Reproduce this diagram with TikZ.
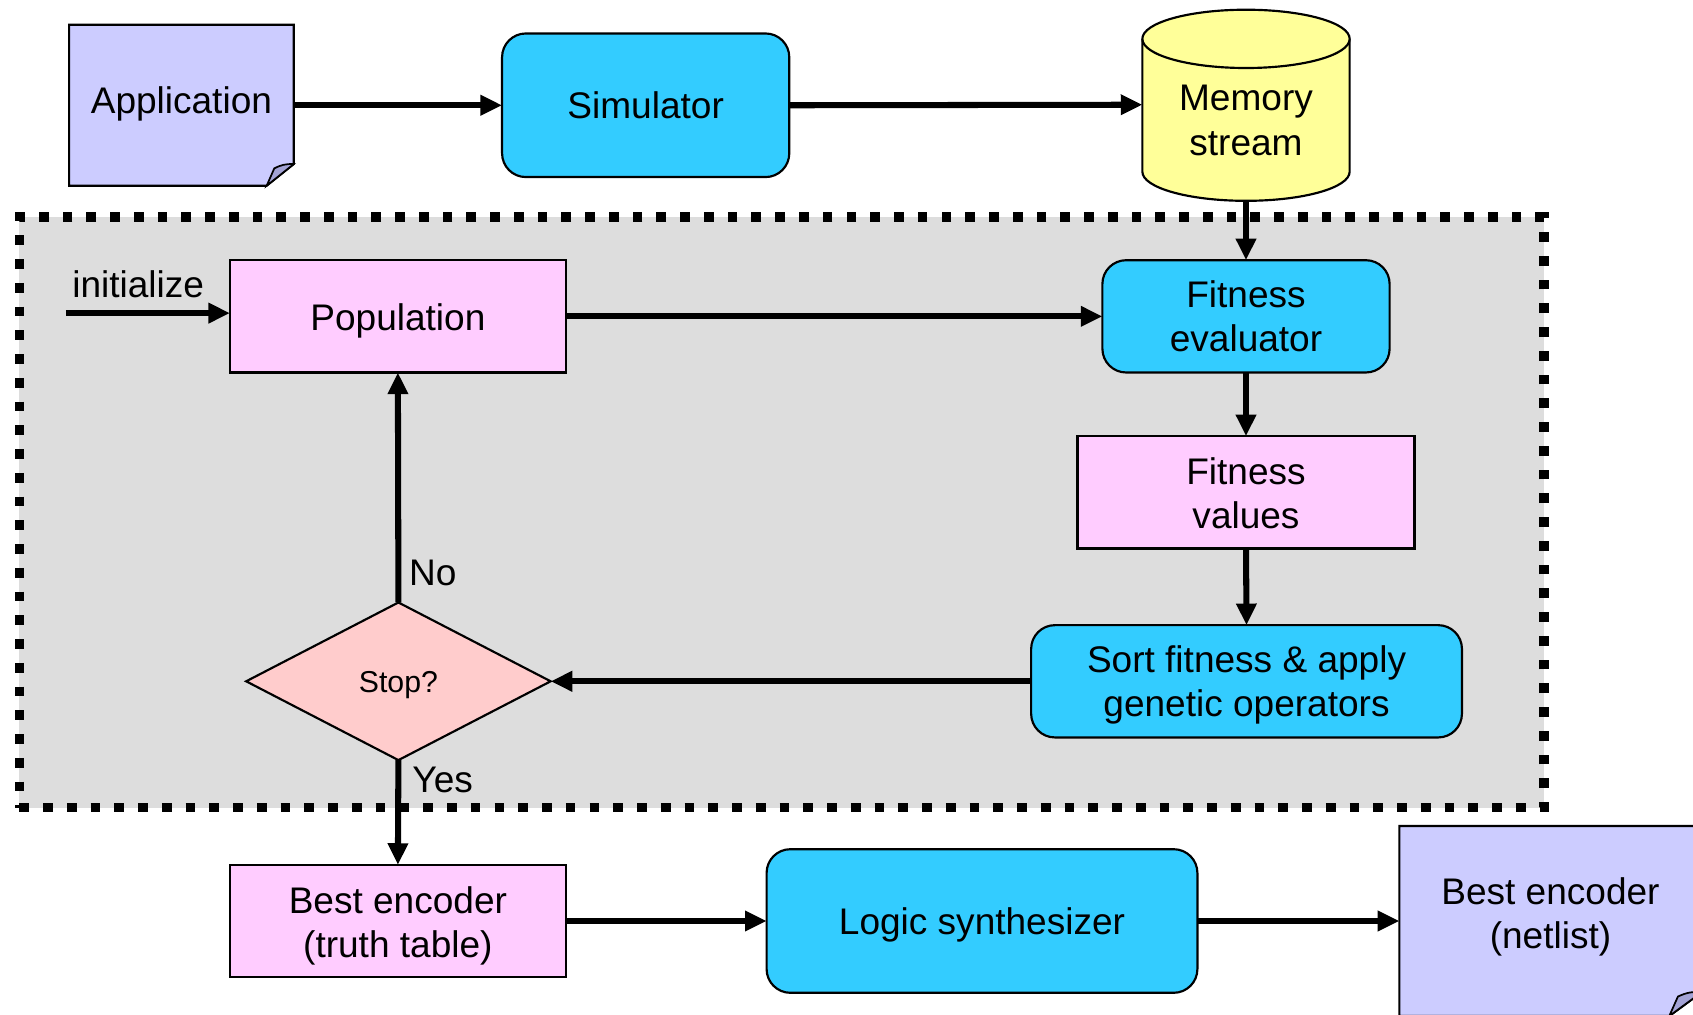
\documentclass[tikz,border=0pt]{standalone}
\usepackage{fontspec}
\setmainfont{Liberation Sans}
\usetikzlibrary{arrows.meta,shapes.geometric,calc,backgrounds}
\definecolor{lav}{HTML}{CCCCFF}
\definecolor{lavd}{HTML}{A3A3D6}
\definecolor{cyanb}{HTML}{33CCFF}
\definecolor{yel}{HTML}{FFFF99}
\definecolor{pinkb}{HTML}{FFCCFF}
\definecolor{rosy}{HTML}{FFCCCC}
\definecolor{grayb}{HTML}{DDDDDD}
\newcommand{\dnshift}[2]{\raisebox{0pt}[\dimexpr\height+#1\relax][\depth]{#2}}
\newcommand{\upshift}[2]{\raisebox{0pt}[\height][\dimexpr\depth+#1\relax]{#2}}
\newcommand{\twol}[2]{\begin{tabular}{@{}c@{}}#1\\#2\end{tabular}}
\begin{document}
\begin{tikzpicture}[x=0.5pt,y=-0.5pt,
  every node/.style={inner sep=0pt, outer sep=0pt, font=\fontsize{17.15}{20.5}\selectfont, align=center},
  box/.style={draw, line width=1pt, fill=pinkb, minimum width=155.5pt, minimum height=52pt},
  proc/.style={draw, line width=1pt, fill=cyanb, rounded corners=11pt},
  notebody/.style={draw, line width=1pt, fill=lav},
  fold/.style={draw, line width=0.8pt, fill=lavd},
  arr/.style={line width=2.8pt, -{Triangle[length=10pt,width=9pt]}},
  lbl/.style={font=\fontsize{17.15}{20.5}\selectfont}
]
\useasboundingbox (0,0) rectangle (1568,940);
\clip (0,0) rectangle (1568,940);

% nodes
\node[minimum width=104pt, minimum height=74.5pt] (app) at (168,97.5) {\upshift{1.5pt}{Application}};
\node[proc, minimum width=133pt, minimum height=66.5pt] (sim) at (598,97.5) {Simulator};
\node[minimum width=96pt, minimum height=89pt] (mem) at (1154,97)
  {\dnshift{18pt}{\twol{Memory}{stream}}};

\node[box] (pop) at (368.5,293) {\dnshift{4pt}{Population}};
\node[proc, minimum width=133pt, minimum height=52pt] (fit) at (1154,293) {\dnshift{4pt}{\twol{Fitness}{evaluator}}};
\node[box, minimum width=156pt] (vals) at (1154,456) {\dnshift{5pt}{\twol{Fitness}{values}}};
\node[proc, minimum width=199.5pt, minimum height=52pt] (sort) at (1154.5,631) {\dnshift{4pt}{\twol{Sort fitness \& apply}{genetic operators}}};
\node[diamond, draw, line width=1pt, fill=rosy, minimum width=141pt, minimum height=73pt,
      font=\fontsize{14}{16}\selectfont] (stop) at (369,631) {\dnshift{3.5pt}{Stop?}};

\node[box] (best) at (368.5,853) {\dnshift{5pt}{\twol{Best encoder}{(truth table)}}};
\node[proc, minimum width=199.5pt, minimum height=66.5pt] (logic) at (909.5,853) {\dnshift{4pt}{Logic synthesizer}};
\node[minimum width=140pt, minimum height=88pt] (net) at (1436,853) {\upshift{3pt}{\twol{Best encoder}{(netlist)}}};

\coordinate (init) at (61,290);
\node[lbl] (tinit) at (128,263) {initialize};
\node[lbl, anchor=west] (tno) at (379,531) {No};
\node[lbl, anchor=west] (tyes) at (382,722) {Yes};

% backgrounds
\begin{scope}[on background layer]
  \node[draw, fill=grayb, line width=4.5pt, dash pattern=on 4.5pt off 6.5pt,
        minimum width=706pt, minimum height=273.5pt] (loop) at (724,474.5) {};
  % application note
  \draw[notebody] (app.north west) -- (app.north east) -- ($(app.south east)+(0,-20)$)
     -- ($(app.south east)+(-25,0)$) -- (app.south west) -- cycle;
  \draw[fold] ($(app.south east)+(-25,0)$) -- ($(app.south east)+(-18,-16)$)
     to[bend left=15] ($(app.south east)+(0,-20)$) -- cycle;
  % netlist note
  \draw[notebody] (net.north west) -- (net.north east) -- ($(net.south east)+(0,-22)$)
     -- ($(net.south east)+(-30,0)$) -- (net.south west) -- cycle;
  \draw[fold] ($(net.south east)+(-30,0)$) -- ($(net.south east)+(-22,-18)$)
     to[bend left=15] ($(net.south east)+(0,-22)$) -- cycle;
  % cylinder
  \fill[yel] (1058,36) rectangle (1250,159);
  \fill[yel] (1154,159) ellipse [x radius=96, y radius=27];
  \draw[line width=1pt] (1058,36) -- (1058,159) arc[start angle=180, end angle=0, x radius=96, y radius=27] -- (1250,36);
  \draw[line width=1pt, fill=yel] (1154,36) ellipse [x radius=96, y radius=27];
\end{scope}

% connectors
\draw[arr] (app.east) -- (sim.west);
\draw[arr] (sim.east) -- (mem.west);
\draw[arr] (mem.south) -- (fit.north);
\draw[arr] (init) -- (init -| pop.west);
\draw[arr] (pop.east) -- (fit.west);
\draw[arr] (fit.south) -- (vals.north);
\draw[arr] (vals.south) -- (sort.north);
\draw[arr] (sort.west) -- (stop.east);
\draw[arr] (stop.north) -- (pop.south);
\draw[arr] (stop.south) -- (best.north);
\draw[arr] (best.east) -- (logic.west);
\draw[arr] (logic.east) -- (net.west);
\end{tikzpicture}
\end{document}
